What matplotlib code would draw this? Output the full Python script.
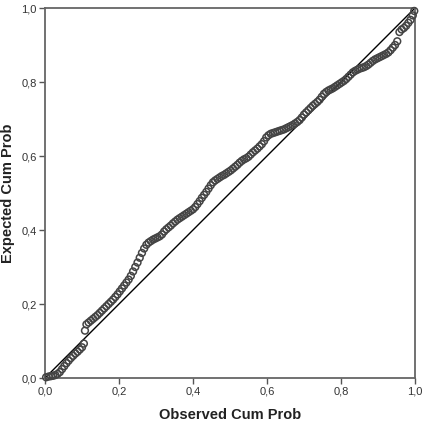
import matplotlib
matplotlib.use("Agg")
import matplotlib.pyplot as plt
from matplotlib.ticker import FuncFormatter

# observed cumulative probability vs expected cumulative probability (P-P plot)
observed = [0.003, 0.010, 0.016, 0.022, 0.028, 0.034, 0.040, 0.046, 0.052, 0.058,
            0.064, 0.070, 0.076, 0.082, 0.088, 0.094, 0.100, 0.105, 0.108, 0.112,
            0.118, 0.124, 0.130, 0.136, 0.142, 0.148, 0.154, 0.160, 0.166, 0.172,
            0.178, 0.184, 0.190, 0.196, 0.202, 0.208, 0.214, 0.220, 0.226, 0.232,
            0.238, 0.244, 0.250, 0.256, 0.262, 0.268, 0.274, 0.280, 0.286, 0.292,
            0.298, 0.304, 0.310, 0.316, 0.322, 0.328, 0.334, 0.340, 0.346, 0.352,
            0.358, 0.364, 0.370, 0.376, 0.382, 0.388, 0.394, 0.400, 0.406, 0.412,
            0.418, 0.424, 0.430, 0.436, 0.442, 0.448, 0.454, 0.460, 0.466, 0.472,
            0.478, 0.484, 0.490, 0.496, 0.502, 0.508, 0.514, 0.520, 0.526, 0.532,
            0.538, 0.544, 0.550, 0.556, 0.562, 0.568, 0.574, 0.580, 0.586, 0.592,
            0.598, 0.604, 0.610, 0.616, 0.622, 0.628, 0.634, 0.640, 0.646, 0.652,
            0.658, 0.664, 0.670, 0.676, 0.682, 0.688, 0.694, 0.700, 0.706, 0.712,
            0.718, 0.724, 0.730, 0.736, 0.742, 0.748, 0.754, 0.760, 0.766, 0.772,
            0.778, 0.784, 0.790, 0.796, 0.802, 0.808, 0.814, 0.820, 0.826, 0.832,
            0.838, 0.844, 0.850, 0.856, 0.862, 0.868, 0.874, 0.880, 0.886, 0.892,
            0.898, 0.904, 0.910, 0.916, 0.922, 0.928, 0.934, 0.940, 0.946, 0.952,
            0.958, 0.964, 0.970, 0.976, 0.982, 0.988, 0.994, 0.998]
expected = [0.002, 0.004, 0.005, 0.006, 0.008, 0.011, 0.016, 0.024, 0.032, 0.040,
            0.047, 0.054, 0.060, 0.066, 0.071, 0.077, 0.083, 0.093, 0.128, 0.145,
            0.150, 0.155, 0.160, 0.165, 0.170, 0.176, 0.182, 0.188, 0.194, 0.200,
            0.206, 0.212, 0.219, 0.226, 0.234, 0.242, 0.250, 0.258, 0.266, 0.276,
            0.288, 0.300, 0.312, 0.325, 0.338, 0.350, 0.360, 0.366, 0.370, 0.374,
            0.377, 0.380, 0.383, 0.388, 0.396, 0.402, 0.407, 0.412, 0.418, 0.423,
            0.428, 0.432, 0.436, 0.440, 0.444, 0.448, 0.452, 0.456, 0.462, 0.470,
            0.478, 0.487, 0.495, 0.503, 0.512, 0.521, 0.529, 0.534, 0.538, 0.542,
            0.546, 0.549, 0.553, 0.557, 0.561, 0.566, 0.571, 0.576, 0.582, 0.587,
            0.591, 0.594, 0.598, 0.604, 0.610, 0.615, 0.620, 0.626, 0.632, 0.640,
            0.650, 0.656, 0.660, 0.662, 0.664, 0.666, 0.668, 0.670, 0.672, 0.675,
            0.678, 0.681, 0.684, 0.688, 0.692, 0.697, 0.704, 0.712, 0.718, 0.724,
            0.730, 0.736, 0.741, 0.746, 0.752, 0.760, 0.768, 0.773, 0.777, 0.780,
            0.783, 0.787, 0.791, 0.795, 0.799, 0.803, 0.808, 0.814, 0.820, 0.826,
            0.830, 0.833, 0.836, 0.838, 0.840, 0.843, 0.847, 0.852, 0.857, 0.861,
            0.864, 0.867, 0.870, 0.873, 0.876, 0.880, 0.886, 0.893, 0.900, 0.910,
            0.935, 0.942, 0.946, 0.952, 0.960, 0.968, 0.980, 0.992]
ref_line = [0.0, 1.0]
ticks = [0.0, 0.2, 0.4, 0.6, 0.8, 1.0]

fig = plt.figure(figsize=(4.23, 4.21), dpi=100)
ax = fig.add_axes([45 / 423, 43 / 421, 370 / 423, 370 / 421])

ax.plot(ref_line, ref_line, color='black', linewidth=1.0, zorder=2)
ax.scatter(observed, expected, s=24, facecolors='none', edgecolors='#444444',
           linewidths=1.1, zorder=3, clip_on=False)

ax.set_xlim(0, 1)
ax.set_ylim(0, 1)
ax.set_xticks(ticks)
ax.set_yticks(ticks)
# comma decimal separator
fmt = FuncFormatter(lambda v, pos: ('%.1f' % v).replace('.', ','))
ax.xaxis.set_major_formatter(fmt)
ax.yaxis.set_major_formatter(fmt)
ax.tick_params(direction='out', length=4, width=1, color='#555555',
               labelsize=8, labelcolor='#333333', pad=2)
for lab in ax.get_xticklabels() + ax.get_yticklabels():
    lab.set_family('Liberation Sans')

for sp in ax.spines.values():
    sp.set_color('#666666')
    sp.set_linewidth(1.3)

ax.set_xlabel('Observed Cum Prob', fontsize=10.5, fontweight='bold',
              family='Liberation Sans', color='#222222', va='center')
ax.set_ylabel('Expected Cum Prob', fontsize=10.5, fontweight='bold',
              family='Liberation Sans', color='#222222', va='center')
ax.xaxis.set_label_coords(0.5, -0.1)
ax.yaxis.set_label_coords(-0.1, 0.5)

fig.savefig('out.png', dpi=100)
